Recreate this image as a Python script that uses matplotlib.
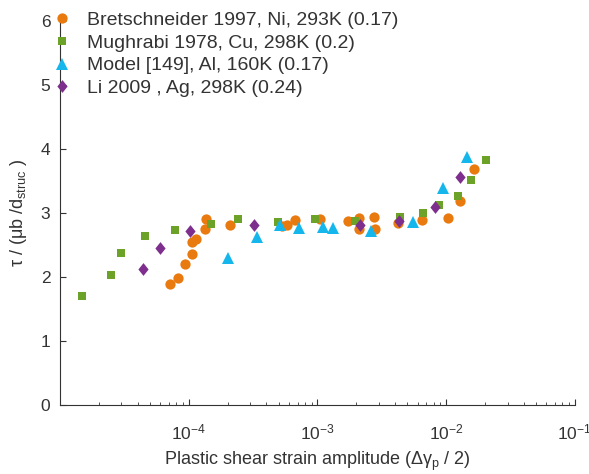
import matplotlib
matplotlib.use("Agg")
import matplotlib.pyplot as plt
from matplotlib.path import Path
from matplotlib.ticker import LogLocator, NullFormatter, FixedLocator

plt.rcParams['font.family'] = ['Liberation Sans', 'DejaVu Sans']
plt.rcParams['mathtext.fontset'] = 'custom'
plt.rcParams['mathtext.rm'] = 'Liberation Sans'
plt.rcParams['mathtext.it'] = 'Liberation Sans'

# Bretschneider 1997, Ni, 293K
ni_x = [7.1e-5, 8.2e-5, 9.3e-5, 1.05e-4, 1.05e-4, 1.13e-4, 1.33e-4, 1.36e-4,
        2.08e-4, 5.3e-4, 5.8e-4, 6.7e-4, 1.05e-3, 1.74e-3, 2.1e-3, 2.1e-3,
        2.77e-3, 2.8e-3, 4.2e-3, 6.5e-3, 1.04e-2, 1.28e-2, 1.66e-2]
ni_y = [1.88, 1.98, 2.20, 2.36, 2.54, 2.59, 2.75, 2.90,
        2.81, 2.79, 2.81, 2.89, 2.90, 2.87, 2.92, 2.75,
        2.93, 2.74, 2.84, 2.88, 2.92, 3.18, 3.68]

# Mughrabi 1978, Cu, 298K
cu_x = [1.48e-5, 2.5e-5, 3.0e-5, 4.57e-5, 7.8e-5, 1.5e-4, 2.4e-4, 4.9e-4,
        9.6e-4, 1.96e-3, 4.4e-3, 6.6e-3, 8.8e-3, 1.24e-2, 1.55e-2, 2.05e-2]
cu_y = [1.70, 2.03, 2.37, 2.64, 2.73, 2.82, 2.90, 2.86,
        2.90, 2.87, 2.93, 3.00, 3.12, 3.26, 3.51, 3.82]

# Model [149], Al, 160K
al_x = [2.0e-4, 3.36e-4, 5.1e-4, 7.2e-4, 1.11e-3, 1.33e-3, 2.6e-3, 5.5e-3,
        9.5e-3, 1.45e-2]
al_y = [2.29, 2.62, 2.81, 2.76, 2.78, 2.76, 2.72, 2.86, 3.39, 3.87]

# Li 2009, Ag, 298K
ag_x = [4.4e-5, 6.0e-5, 1.02e-4, 3.2e-4, 2.14e-3, 4.3e-3, 8.2e-3, 1.28e-2]
ag_y = [2.12, 2.45, 2.72, 2.81, 2.81, 2.87, 3.09, 3.56]

labels = ['Bretschneider 1997, Ni, 293K (0.17)',
          'Mughrabi 1978, Cu, 298K (0.2)',
          'Model [149], Al, 160K (0.17)',
          'Li 2009 , Ag, 298K (0.24)']

# slightly narrow diamond marker
diamond = Path([(0, 1), (0.8, 0), (0, -1), (-0.8, 0), (0, 1)],
               [Path.MOVETO, Path.LINETO, Path.LINETO, Path.LINETO,
                Path.CLOSEPOLY])

fig = plt.figure(figsize=(5.89, 4.74), dpi=100)
ax = fig.add_axes([0.102, 0.1466, 0.874, 0.809])

ax.plot(ni_x, ni_y, 'o', color='#E97A10', markersize=7.4, markeredgewidth=0,
        label=labels[0], zorder=3)
ax.plot(cu_x, cu_y, 's', color='#6DA229', markersize=6.4, markeredgewidth=0,
        label=labels[1], zorder=3)
ax.plot(al_x, al_y, '^', color='#14B6EC', markersize=8.5, markeredgewidth=0,
        label=labels[2], zorder=3)
ax.plot(ag_x, ag_y, marker=diamond, linestyle='none', color='#7E2F8E',
        markersize=9.2, markeredgewidth=0, label=labels[3], zorder=3)

ax.set_xscale('log')
ax.set_xlim(1e-5, 1e-1)
ax.set_ylim(0, 6)
ax.xaxis.set_major_locator(FixedLocator([1e-4, 1e-3, 1e-2, 1e-1]))
ax.xaxis.set_minor_locator(LogLocator(base=10, subs=range(2, 10), numticks=20))
ax.xaxis.set_minor_formatter(NullFormatter())
ax.set_xticklabels([r'$10^{-4}$', r'$10^{-3}$', r'$10^{-2}$', r'$10^{-1}$'])
ax.set_yticks([0, 1, 2, 3, 4, 5, 6])

for s in ['top', 'right']:
    ax.spines[s].set_visible(False)
for s in ['left', 'bottom']:
    ax.spines[s].set_color('#333333')
    ax.spines[s].set_linewidth(0.8)

ax.tick_params(axis='y', which='major', direction='in', length=4,
               width=0.8, colors='#333333', labelsize=12.5, labelcolor='#333333',
               pad=7)
ax.tick_params(axis='x', which='major', direction='in', length=4,
               width=0.8, colors='#333333', labelsize=12.5, labelcolor='#333333',
               pad=13)
ax.tick_params(axis='x', which='minor', direction='in', length=2.5,
               width=0.6, colors='#333333')

ax.set_xlabel(r'Plastic shear strain amplitude ($\Delta\gamma_p$ / 2)',
              fontsize=13, color='#333333', labelpad=5)
ax.set_ylabel(r'$\tau$ / ($\mu$b /$\mathrm{d}_{\mathrm{struc}}$ )', fontsize=13,
              color='#333333', labelpad=8)

leg = ax.legend(loc='upper left', frameon=False, fontsize=14,
                bbox_to_anchor=(-0.015, 1.025), handletextpad=0.8,
                labelspacing=0.26, borderaxespad=0.0, borderpad=0.0,
                handlelength=1.0)
for t in leg.get_texts():
    t.set_color('#333333')

fig.savefig('out.png', dpi=100)
